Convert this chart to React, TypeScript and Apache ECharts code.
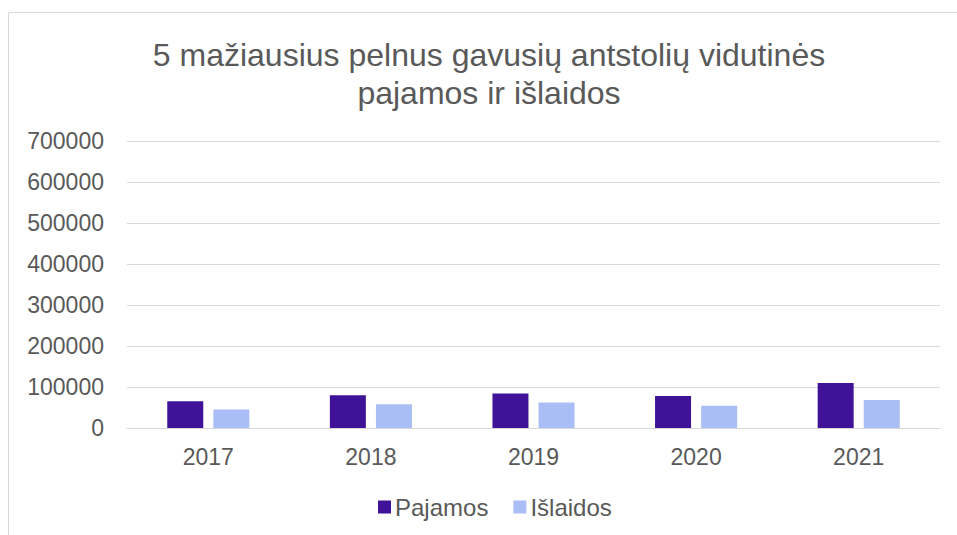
import React, { useEffect, useRef } from "react";
import * as echarts from "echarts";

const years = ["2017", "2018", "2019", "2020", "2021"];
const pajamos = [65000, 80000, 84000, 78000, 110000];
const islaidos = [45000, 58000, 62000, 54000, 68000];
const titleText = "5 mažiausius pelnus gavusių antstolių vidutinės\npajamos ir išlaidos";

export default function App() {
  const ref = useRef<HTMLDivElement>(null);
  useEffect(() => {
    document.body.style.margin = "0";
    const chart = echarts.init(ref.current!, null, { renderer: "svg" });
    const font = "'Liberation Sans', Arial, sans-serif";
    chart.setOption({
      animation: false,
      backgroundColor: "#ffffff",
      textStyle: { fontFamily: font },
      graphic: [
        {
          type: "rect",
          shape: { x: 8.5, y: 12.5, width: 1000, height: 600 },
          style: { fill: "none", stroke: "#d9d9d9", lineWidth: 1 },
          silent: true,
        },
      ],
      title: {
        text: titleText,
        left: 484,
        textAlign: "center",
        top: 31,
        textStyle: {
          fontFamily: font,
          fontSize: 32,
          fontWeight: "normal",
          color: "#595959",
          lineHeight: 38,
        },
      },
      legend: {
        data: ["Pajamos", "Išlaidos"],
        bottom: 16,
        left: 378,
        padding: 0,
        icon: "rect",
        itemWidth: 13,
        itemHeight: 13,
        itemGap: 25,
        textStyle: { fontFamily: font, fontSize: 24, color: "#595959", padding: [0, 0, 0, -1] },
      },
      grid: { left: 127, right: 17, top: 141, bottom: 107, containLabel: false },
      xAxis: {
        type: "category",
        data: years,
        axisLine: { show: true, lineStyle: { color: "#d9d9d9", width: 1 } },
        axisTick: { show: false },
        axisLabel: { fontFamily: font, fontSize: 23, color: "#595959", margin: 17 },
      },
      yAxis: {
        type: "value",
        min: 0,
        max: 700000,
        interval: 100000,
        axisLine: { show: false },
        axisTick: { show: false },
        splitLine: { lineStyle: { color: "#d9d9d9", width: 1 } },
        axisLabel: {
          fontFamily: font,
          fontSize: 23,
          color: "#595959",
          margin: 23,
          formatter: (v: number) => String(v),
        },
      },
      series: [
        {
          name: "Pajamos",
          type: "bar",
          data: pajamos,
          barWidth: 36,
          barGap: "28%",
          itemStyle: { color: "#3F1298" },
        },
        {
          name: "Išlaidos",
          type: "bar",
          data: islaidos,
          barWidth: 36,
          itemStyle: { color: "#A9BEF5" },
        },
      ],
    });
    return () => chart.dispose();
  }, []);
  return <div ref={ref} style={{ width: 957, height: 535 }} />;
}
